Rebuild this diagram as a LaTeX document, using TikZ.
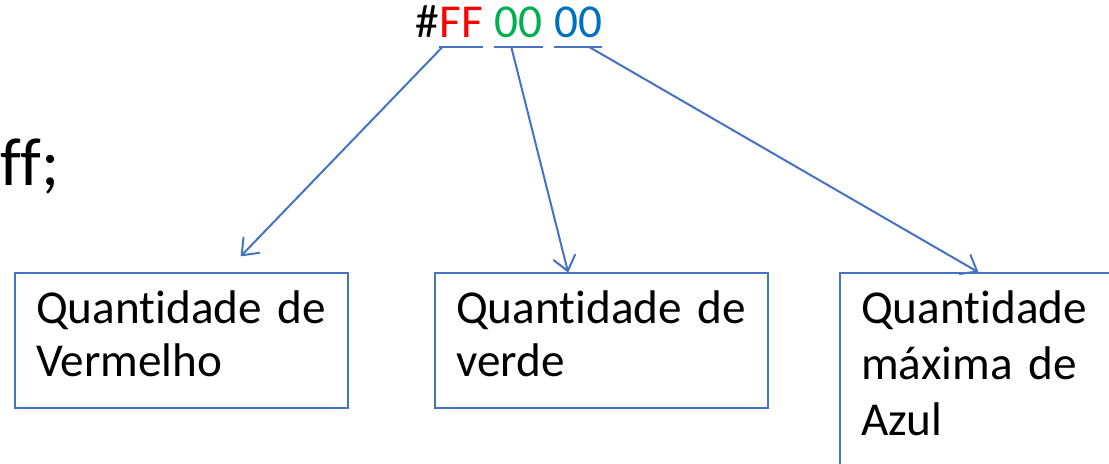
\documentclass[tikz,border=0pt]{standalone}
\usepackage{fontspec}
\setmainfont{Carlito}[Ligatures={NoCommon}]
\usetikzlibrary{positioning,calc,arrows.meta}

\definecolor{linha}{HTML}{4472C4}
\definecolor{cvermelho}{HTML}{FF0000}
\definecolor{cverde}{HTML}{00B050}
\definecolor{cazul}{HTML}{0070C0}

\tikzset{
  caixa/.style={draw=linha, line width=1.2pt, anchor=north west, align=left,
    text width=166.5pt, inner xsep=0pt, inner ysep=0pt,
    execute at begin node={\leftskip=10.5pt},
    text height=25pt, text depth=42.5pt},
  seta/.style={draw=linha, line width=1pt, line join=round,
    -{Straight Barb[length=7pt,width=11pt,round]}},
  sublinha/.style={draw=linha, line width=1.3pt},
  hexa/.style={inner sep=0pt}
}

\begin{document}
\begin{tikzpicture}[x=0.5pt,y=-0.5pt,font=\fontsize{23.6}{26.5}\selectfont]

\useasboundingbox (0,0) rectangle (1109,463);
\clip (0,0) rectangle (1109,463);

\node[hexa, anchor=base west] (cerquilha) at (415,37) {\#};
\node[hexa, base right=0pt of cerquilha, text=cvermelho] (ff) {FF};
\node[hexa, base right=5.4pt of ff, text=cverde] (g00) {00};
\node[hexa, base right=5.4pt of g00, text=cazul] (b00) {00};

\draw[sublinha] ([yshift=-5pt]ff.base west) -- coordinate[pos=.07] (iniff) ([yshift=-5pt]ff.base east);
\draw[sublinha] ([yshift=-5pt]g00.base west) -- coordinate[pos=.35] (inig) ([yshift=-5pt]g00.base east);
\draw[sublinha] ([yshift=-5pt]b00.base west) -- coordinate[pos=.73] (inib) ([yshift=-5pt]b00.base east);

\node[hexa, anchor=base west, font=\fontsize{34}{40}\selectfont] (fimcor) at (0,185) {ff;};

\node[caixa] (vermelho) at (14,272) {Quantidade de\\Vermelho};
\node[caixa] (verde) at (434,272) {Quantidade de\\verde};
\node[caixa, text width=160pt, text depth=110pt, font=\fontsize{23.6}{28}\selectfont] (azul) at (839,272) {Quantidade\\máxima de\\Azul};

\coordinate (fimvermelho) at ([shift={(113.5pt,8pt)}]vermelho.north west);
\coordinate (fimverde) at ([xshift=67pt]verde.north west);
\coordinate (fimazul) at ([xshift=69.5pt]azul.north west);

\draw[seta] (iniff) -- (fimvermelho);
\draw[seta] (inig) -- (fimverde);
\draw[seta] (inib) -- (fimazul);

\end{tikzpicture}
\end{document}
